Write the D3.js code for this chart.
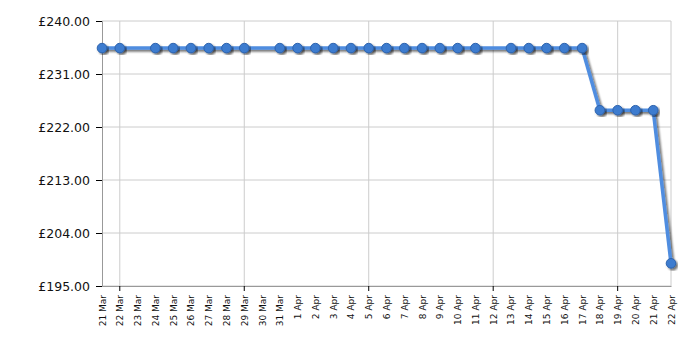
<!DOCTYPE html>
<html>
<head>
<meta charset="utf-8">
<script src="https://cdn.jsdelivr.net/npm/d3@7"></script>
<style>
  body { margin: 0; background: #fff; }
  text { font-family: "DejaVu Sans", Verdana, sans-serif; }
</style>
</head>
<body>
<div id="chart"></div>
<script>
// every day on the axis
var days = ["21 Mar","22 Mar","23 Mar","24 Mar","25 Mar","26 Mar","27 Mar","28 Mar","29 Mar","30 Mar","31 Mar",
	"1 Apr","2 Apr","3 Apr","4 Apr","5 Apr","6 Apr","7 Apr","8 Apr","9 Apr","10 Apr","11 Apr","12 Apr",
	"13 Apr","14 Apr","15 Apr","16 Apr","17 Apr","18 Apr","19 Apr","20 Apr","21 Apr","22 Apr"];
// days that have a price
var priceDays = ["21 Mar","22 Mar","24 Mar","25 Mar","26 Mar","27 Mar","28 Mar","29 Mar","31 Mar",
	"1 Apr","2 Apr","3 Apr","4 Apr","5 Apr","6 Apr","7 Apr","8 Apr","9 Apr","10 Apr","11 Apr",
	"13 Apr","14 Apr","15 Apr","16 Apr","17 Apr","18 Apr","19 Apr","20 Apr","21 Apr","22 Apr"];
var prices = [235.4,235.4,235.4,235.4,235.4,235.4,235.4,235.4,235.4,
	235.4,235.4,235.4,235.4,235.4,235.4,235.4,235.4,235.4,235.4,235.4,
	235.4,235.4,235.4,235.4,235.4,224.85,224.85,224.85,224.85,198.85];
var yTicks = [195,204,213,222,231,240];
var gridDays = ["22 Mar","29 Mar","5 Apr","12 Apr","19 Apr"];

var W = 700, H = 350;
var m = {left: 102, right: 29, top: 21, bottom: 64};

var svg = d3.select("#chart").append("svg")
	.attr("width", W)
	.attr("height", H);

var x = d3.scalePoint()
	.domain(days)
	.range([m.left, W - m.right]);
var y = d3.scaleLinear()
	.domain([195, 240])
	.range([H - m.bottom, m.top]);

var defs = svg.append("defs");
var f = defs.append("filter").attr("id", "shadow")
	.attr("x", "-20%").attr("y", "-20%").attr("width", "140%").attr("height", "140%");
f.append("feGaussianBlur").attr("in", "SourceAlpha").attr("stdDeviation", 0.8).attr("result", "b");
f.append("feOffset").attr("in", "b").attr("dx", 1.5).attr("dy", 2).attr("result", "o");
f.append("feComponentTransfer").attr("in", "o").attr("result", "s")
	.append("feFuncA").attr("type", "linear").attr("slope", 0.55);
var merge = f.append("feMerge");
merge.append("feMergeNode").attr("in", "s");
merge.append("feMergeNode").attr("in", "SourceGraphic");

// grid
var grid = svg.append("g");
grid.selectAll("line.h")
	.data(yTicks)
	.enter().append("line")
	.attr("x1", m.left).attr("x2", W - m.right)
	.attr("y1", d => y(d)).attr("y2", d => y(d))
	.attr("stroke", "#cccccc");
grid.selectAll("line.v")
	.data(gridDays)
	.enter().append("line")
	.attr("x1", d => x(d)).attr("x2", d => x(d))
	.attr("y1", m.top).attr("y2", H - m.bottom)
	.attr("stroke", "#cccccc");
grid.append("line")
	.attr("x1", W - m.right).attr("x2", W - m.right)
	.attr("y1", m.top).attr("y2", H - m.bottom)
	.attr("stroke", "#cccccc");

// y axis
var yAxis = svg.append("g")
	.attr("transform", `translate(${m.left},0)`)
	.call(d3.axisLeft(y).tickValues(yTicks).tickSize(6).tickPadding(6)
		.tickFormat(d => "£" + d3.format(".2f")(d)));
yAxis.select(".domain").attr("stroke", "#999999");
yAxis.selectAll(".tick line").attr("stroke", "#000");
yAxis.selectAll("text").attr("font-size", "12.5px").attr("fill", "#111");

// x axis
var xAxis = svg.append("g")
	.attr("transform", `translate(0,${H - m.bottom})`)
	.call(d3.axisBottom(x).tickSize(0).tickPadding(0));
xAxis.select(".domain").attr("stroke", "#999999");
xAxis.selectAll("text")
	.attr("font-size", "9px")
	.attr("fill", "#111")
	.attr("text-anchor", "end")
	.attr("dy", null)
	.attr("transform", "translate(3,9) rotate(-90)");
svg.append("g").selectAll("line")
	.data(gridDays)
	.enter().append("line")
	.attr("x1", d => x(d)).attr("x2", d => x(d))
	.attr("y1", H - m.bottom).attr("y2", H - m.bottom + 5)
	.attr("stroke", "#000");

var pts = priceDays.map((d, i) => ({day: d, price: prices[i]}));

var line = d3.line()
	.x(d => x(d.day))
	.y(d => y(d.price));

svg.append("path")
	.datum(pts)
	.attr("d", line)
	.attr("fill", "none")
	.attr("stroke", "#4f8de0")
	.attr("stroke-width", 3.5)
	.attr("stroke-linejoin", "round")
	.attr("filter", "url(#shadow)");

svg.append("g").selectAll("circle")
	.data(pts)
	.enter().append("circle")
	.attr("cx", d => x(d.day))
	.attr("cy", d => y(d.price))
	.attr("r", 4.8)
	.attr("fill", "#3d7bcf")
	.attr("stroke", "#2d63ad")
	.attr("stroke-width", 1)
	.attr("filter", "url(#shadow)");
</script>
</body>
</html>
